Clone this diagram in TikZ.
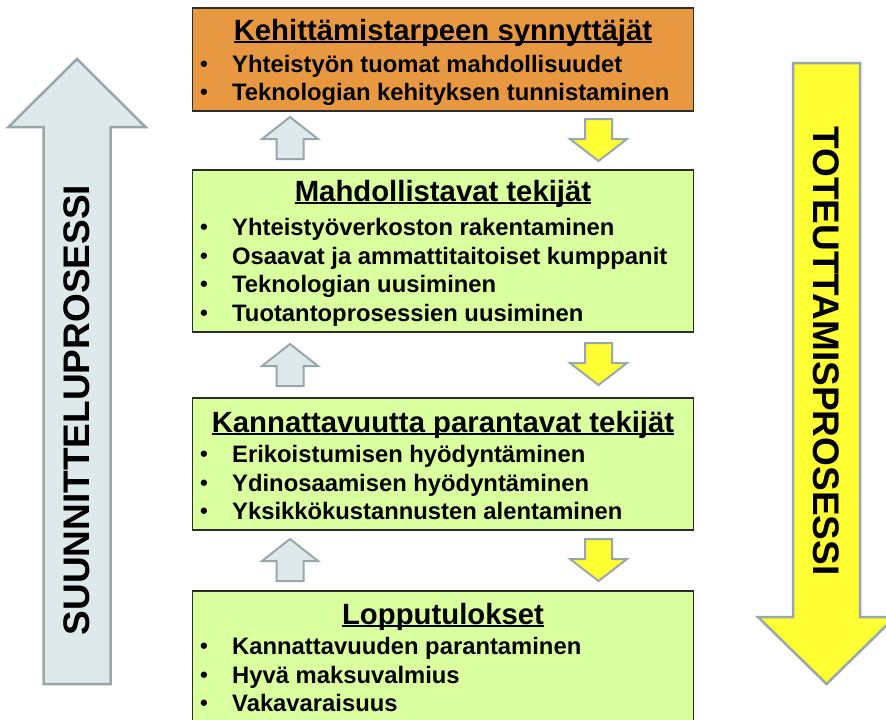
\documentclass[tikz,border=0pt]{standalone}
\usepackage{fontspec}
\setmainfont{Liberation Sans}

\definecolor{boxorange}{RGB}{232,152,64}
\definecolor{boxgreen}{RGB}{218,255,158}
\definecolor{upfill}{RGB}{221,233,234}
\definecolor{downfill}{RGB}{255,255,51}
\definecolor{arrowedge}{RGB}{152,168,170}
\definecolor{boxedge}{RGB}{45,45,45}

% underlined heading: the rule crosses the descenders
\newsavebox\ttlsave
\newcommand\ttltext[1]{\sbox\ttlsave{#1}\rlap{\rule[-3.2pt]{\wd\ttlsave}{1.8pt}}\usebox\ttlsave}
% bullet followed by item text
\newcommand\bitem[1]{\makebox[32pt][l]{\fontsize{22}{22}\selectfont\raisebox{0.5pt}{•}}#1}

\begin{document}
\begin{tikzpicture}[x=1pt,y=-1pt,
  stagebox/.style={draw=boxedge, line width=1.5pt, rectangle, inner sep=0pt,
    minimum width=501pt},
  ttl/.style={anchor=base, inner sep=0pt,
    font=\fontsize{29.3}{32}\selectfont\bfseries},
  itm/.style={anchor=base west, inner sep=0pt,
    font=\fontsize{23.8}{26}\selectfont\bfseries},
  side/.style={inner sep=0pt, font=\fontsize{37}{40}\selectfont\bfseries},
  smallup/.style={draw=arrowedge, fill=upfill, line width=2pt, line join=miter},
  smalldown/.style={draw=arrowedge, fill=downfill, line width=2pt, line join=miter},
  bigup/.style={draw=arrowedge, fill=upfill, line width=2.5pt, line join=miter},
  bigdown/.style={draw=arrowedge, fill=downfill, line width=2.5pt, line join=miter},
  uparr/.pic={\path[smallup] (0,0) -- (28,22) -- (13.5,22) -- (13.5,42)
      -- (-13.5,42) -- (-13.5,22) -- (-28,22) -- cycle;},
  downarr/.pic={\path[smalldown] (-13.5,0) -- (13.5,0) -- (13.5,20) -- (28.5,20)
      -- (0,42) -- (-28.5,20) -- (-13.5,20) -- cycle;}
]
\useasboundingbox (0,0) rectangle (886,720);
\clip (0,0) rectangle (886,720);
\fill[white] (0,0) rectangle (886,720);

% planning process (upwards)
\draw[bigup] (77,59) -- (145.5,127) -- (110.5,127) -- (110.5,684) -- (43.5,684)
  -- (43.5,127) -- (8.5,127) -- cycle;
\node[side, rotate=90] (plan) at (77,410) {SUUNNITTELUPROSESSI};

% implementation process (downwards)
\draw[bigdown] (793,63) -- (860,63) -- (860,617) -- (895,617) -- (826.5,684)
  -- (758,617) -- (793,617) -- cycle;
\node[side, rotate=-90] (impl) at (826.5,351) {TOTEUTTAMISPROSESSI};

% stage boxes
\node[stagebox, fill=boxorange, minimum height=103pt] (need) at (443,59.5) {};
\node[stagebox, fill=boxgreen, minimum height=162pt] (enable) at (443,251) {};
\node[stagebox, fill=boxgreen, minimum height=132pt] (profit) at (443,464) {};
\node[stagebox, fill=boxgreen, minimum height=154pt] (result) at (443,668) {};

% stage 1
\node[ttl] (needT) at (443,40) {\ttltext{Kehittämistarpeen synnyttäjät}};
\node[itm] (need1) at (200,72) {\bitem{Yhteistyön tuomat mahdollisuudet}};
\node[itm] (need2) at (200,100) {\bitem{Teknologian kehityksen tunnistaminen}};

% stage 2
\node[ttl] (enableT) at (443,201) {\ttltext{Mahdollistavat tekijät}};
\node[itm] (enable1) at (200,235) {\bitem{Yhteistyöverkoston rakentaminen}};
\node[itm] (enable2) at (200,264) {\bitem{Osaavat ja ammattitaitoiset kumppanit}};
\node[itm] (enable3) at (200,292) {\bitem{Teknologian uusiminen}};
\node[itm] (enable4) at (200,321) {\bitem{Tuotantoprosessien uusiminen}};

% stage 3
\node[ttl] (profitT) at (443,432) {\ttltext{Kannattavuutta parantavat tekijät}};
\node[itm] (profit1) at (200,462) {\bitem{Erikoistumisen hyödyntäminen}};
\node[itm] (profit2) at (200,491) {\bitem{Ydinosaamisen hyödyntäminen}};
\node[itm] (profit3) at (200,519) {\bitem{Yksikkökustannusten alentaminen}};

% stage 4
\node[ttl] (resultT) at (443,624) {\ttltext{Lopputulokset}};
\node[itm] (result1) at (200,654) {\bitem{Kannattavuuden parantaminen}};
\node[itm] (result2) at (200,683) {\bitem{Hyvä maksuvalmius}};
\node[itm] (result3) at (200,711) {\bitem{Vakavaraisuus}};

% small arrows between the stages
\pic at (290,117) {uparr};
\pic at (290,344) {uparr};
\pic at (290,539) {uparr};
\pic at (598.5,119) {downarr};
\pic at (598.5,343) {downarr};
\pic at (598.5,539) {downarr};
\end{tikzpicture}
\end{document}
